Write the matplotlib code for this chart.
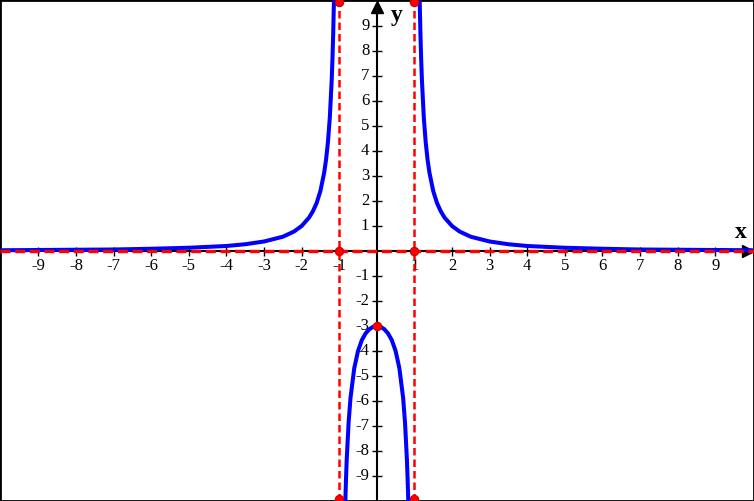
import matplotlib
matplotlib.use("Agg")
import matplotlib.pyplot as plt

# curve points (three branches)
left_x = [-10.0, -9.0, -8.0, -7.0, -6.0, -5.0, -4.0, -3.5, -3.0, -2.5, -2.2, -2.0,
          -1.8, -1.7, -1.6, -1.5, -1.4, -1.35, -1.3, -1.25, -1.2, -1.18, -1.16, -1.14]
left_y = [0.03, 0.04, 0.05, 0.06, 0.09, 0.13, 0.2, 0.27, 0.38, 0.57, 0.78, 1.0,
          1.34, 1.59, 1.92, 2.4, 3.13, 3.65, 4.35, 5.33, 6.82, 7.65, 8.68, 10.01]

mid_x = [-0.837, -0.82, -0.8, -0.75, -0.7, -0.6, -0.5, -0.4, -0.3, -0.2, -0.1, 0.0,
         0.1, 0.2, 0.3, 0.4, 0.5, 0.6, 0.7, 0.75, 0.8, 0.82, 0.837]
mid_y = [-10.0, -9.16, -8.33, -6.86, -5.88, -4.69, -4.0, -3.57, -3.3, -3.13, -3.03, -3.0,
         -3.03, -3.13, -3.3, -3.57, -4.0, -4.69, -5.88, -6.86, -8.33, -9.16, -10.0]

right_x = [1.14, 1.16, 1.18, 1.2, 1.25, 1.3, 1.35, 1.4, 1.5, 1.6, 1.7, 1.8,
           2.0, 2.2, 2.5, 3.0, 3.5, 4.0, 5.0, 6.0, 7.0, 8.0, 9.0, 10.0]
right_y = [10.01, 8.68, 7.65, 6.82, 5.33, 4.35, 3.65, 3.13, 2.4, 1.92, 1.59, 1.34,
           1.0, 0.78, 0.57, 0.38, 0.27, 0.2, 0.13, 0.09, 0.06, 0.05, 0.04, 0.03]

asymptotes_x = [-1, 1]
asymptote_y = 0
point_x = [-1, 1, 0, -1, 1, -1, 1]
point_y = [0, 0, -3, 9.95, 9.95, -9.92, -9.92]

x_ticks = [-9, -8, -7, -6, -5, -4, -3, -2, -1, 1, 2, 3, 4, 5, 6, 7, 8, 9]
y_ticks = [-9, -8, -7, -6, -5, -4, -3, -2, -1, 1, 2, 3, 4, 5, 6, 7, 8, 9]

XMIN, XMAX = -10.02, 10.03
YMIN, YMAX = -10.0, 10.04

serif = ["Liberation Serif", "DejaVu Serif"]

fig = plt.figure(figsize=(7.54, 5.01), dpi=100)
ax = fig.add_axes([0, 0, 1, 1])
ax.set_xlim(XMIN, XMAX)
ax.set_ylim(YMIN, YMAX)
ax.set_xticks([])
ax.set_yticks([])
for s in ax.spines.values():
    s.set_linewidth(2)
    s.set_color("black")

# coordinate axes with arrowheads
ax.plot([XMIN, XMAX - 0.1], [0, 0], color="black", lw=1.5, zorder=2)
ax.plot([0, 0], [YMIN, YMAX - 0.2], color="black", lw=1.5, zorder=2)
ax.plot(XMAX - 0.17, 0, marker=">", ms=8, color="black", zorder=3)
ax.plot(0, YMAX - 0.28, marker="^", ms=8, color="black", zorder=3)

# ticks and labels
ax.vlines(x_ticks, -0.18, 0.18, color="black", lw=1, zorder=2)
ax.hlines(y_ticks, -0.13, 0.13, color="black", lw=1, zorder=2)
for t in x_ticks:
    ax.text(t, -0.28, str(t), ha="center", va="top", fontsize=12, family=serif)
for t in y_ticks:
    ax.text(-0.2, t, str(t), ha="right", va="center", fontsize=12, family=serif)
ax.text(9.69, 0.76, "x", ha="center", va="center", fontsize=17,
        fontweight="bold", family=serif)
ax.text(0.54, 9.4, "y", ha="center", va="center", fontsize=17,
        fontweight="bold", family=serif)

# curve
for bx, by in [(left_x, left_y), (mid_x, mid_y), (right_x, right_y)]:
    ax.plot(bx, by, color="#0000ff", lw=2.9, zorder=4, solid_capstyle="butt")

# asymptotes
ax.axhline(asymptote_y, color="#ff0000", lw=2.4, dashes=(3.0, 1.4), zorder=5)
for a in asymptotes_x:
    ax.axvline(a, color="#ff0000", lw=1.8, dashes=(3.0, 1.6), zorder=5)

ax.plot(point_x, point_y, "o", ms=6, color="#ff0000", markeredgecolor="#cc0000",
        markeredgewidth=0.8, linestyle="none", zorder=6)

fig.savefig("out.png", dpi=100)
